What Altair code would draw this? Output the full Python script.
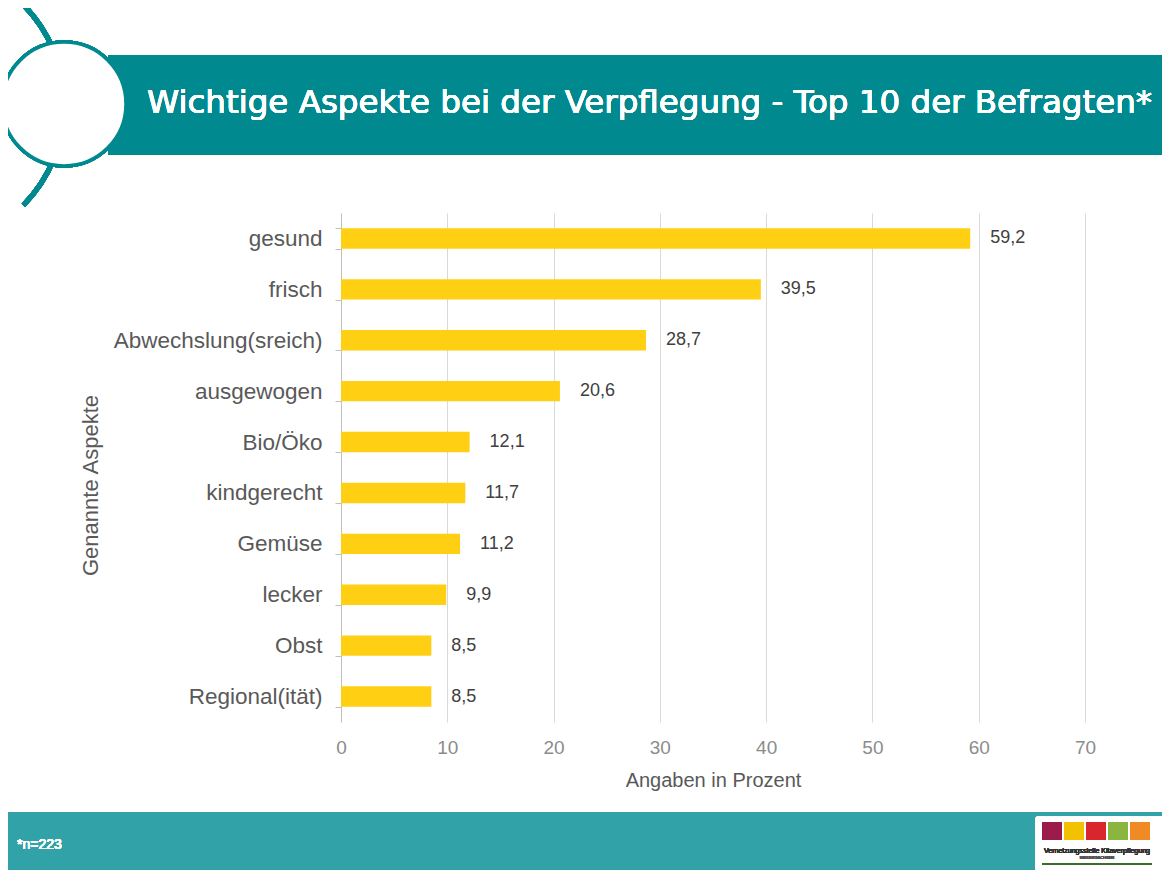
import altair as alt
import pandas as pd

aspects = ["gesund", "frisch", "Abwechslung(sreich)", "ausgewogen", "Bio/Öko",
           "kindgerecht", "Gemüse", "lecker", "Obst", "Regional(ität)"]
values = [59.2, 39.5, 28.7, 20.6, 12.1, 11.7, 11.2, 9.9, 8.5, 8.5]
labels = ["59,2", "39,5", "28,7", "20,6", "12,1", "11,7", "11,2", "9,9", "8,5", "8,5"]
x_ticks = [0, 10, 20, 30, 40, 50, 60, 70]

title_text = "Wichtige Aspekte bei der Verpflegung - Top 10 der Befragten*"
footnote = "*n=223"

df = pd.DataFrame({"aspect": aspects, "value": values, "label": labels})

FONT = "Liberation Sans"
TEAL = "#00898e"
FOOT = "#30a2a8"
BAR = "#ffcf14"

W, H = 744, 509
OX, OY = 341, 213

base = alt.Chart(df)

bars = base.mark_bar(color=BAR).encode(
    x=alt.X("value:Q", scale=alt.Scale(domain=[0, 70], nice=False),
            axis=alt.Axis(values=x_ticks, title="Angaben in Prozent", grid=True,
                          gridColor="#d9d9d9", gridWidth=1, domain=False, ticks=False,
                          labelFlush=False,
                          labelFontSize=19, labelColor="#8c8c8c", labelPadding=16,
                          labelFont=FONT, titleFont=FONT, titleFontSize=20,
                          titleFontWeight="normal", titleColor="#595959", titlePadding=13)),
    y=alt.Y("aspect:N", sort=aspects,
            scale=alt.Scale(paddingInner=0.6, paddingOuter=0.3),
            axis=alt.Axis(title="Genannte Aspekte", domain=True, domainColor="#bfbfbf",
                          ticks=True, tickBand="extent", tickColor="#bfbfbf", tickSize=6,
                          labelFontSize=22.5, labelColor="#595959", labelPadding=13,
                          labelLimit=400,
                          labelFont=FONT, titleFont=FONT, titleFontSize=22,
                          titleFontWeight="normal", titleColor="#595959",
                          titleX=90 - OX, titleY=485 - OY, titleAngle=270,
                          titleAlign="center", titleBaseline="middle")),
)

text = base.mark_text(align="left", baseline="middle", dx=20, fontSize=18,
                      font=FONT, color="#404040").encode(
    x="value:Q", y=alt.Y("aspect:N", sort=aspects), text="label:N")

# Decorations (pixel positions relative to the plot origin)
header = alt.Chart(df).mark_rect(color=TEAL).encode(
    x=alt.value(108 - OX), x2=alt.value(1175 - OX),
    y=alt.value(55 - OY), y2=alt.value(155 - OY))

big_arc = alt.Chart(df).mark_arc(color=TEAL, radius=145, radius2=140,
                                 theta=0.79, theta2=2.35).encode(
    x=alt.value(-78 - OX), y=alt.value(105 - OY))

circle = alt.Chart(df).mark_point(shape="circle", filled=False, fill="white",
                                  fillOpacity=1, stroke=TEAL, strokeWidth=3.5,
                                  opacity=1, size=124 * 124).encode(
    x=alt.value(64 - OX), y=alt.value(104 - OY))

title = alt.Chart(df).mark_text(align="left", baseline="middle", fontSize=32.5,
                                fontWeight="normal", font="DejaVu Sans",
                                color="white").encode(
    x=alt.value(147 - OX), y=alt.value(103 - OY), text=alt.value(title_text))

footer = alt.Chart(df).mark_rect(color=FOOT).encode(
    x=alt.value(-OX - 10), x2=alt.value(1175 - OX),
    y=alt.value(812 - OY), y2=alt.value(885 - OY))

foot_text = alt.Chart(df).mark_text(align="left", baseline="middle", fontSize=14,
                                    fontWeight="normal", font=FONT,
                                    color="white").encode(
    x=alt.value(17 - OX), y=alt.value(845 - OY), text=alt.value(footnote))

logo_bg = alt.Chart(df).mark_rect(color="white", cornerRadius=4).encode(
    x=alt.value(1035 - OX), x2=alt.value(1165 - OX),
    y=alt.value(816 - OY), y2=alt.value(871 - OY))

logo_colors = ["#9b1b4b", "#f2c200", "#d9262c", "#8ab53f", "#f08a24"]
logo_layers = []
for i, c in enumerate(logo_colors):
    x0 = 1042 + i * 22
    logo_layers.append(alt.Chart(df).mark_rect(color=c).encode(
        x=alt.value(x0 - OX), x2=alt.value(x0 + 20 - OX),
        y=alt.value(822 - OY), y2=alt.value(840 - OY)))

logo_text = alt.Chart(df).mark_text(align="center", baseline="middle", fontSize=7,
                                    font=FONT, color="#333333").encode(
    x=alt.value(1097 - OX), y=alt.value(851 - OY),
    text=alt.value("Vernetzungsstelle Kitaverpflegung"))
logo_text2 = alt.Chart(df).mark_text(align="center", baseline="middle", fontSize=4,
                                     font=FONT, color="#555555").encode(
    x=alt.value(1097 - OX), y=alt.value(858 - OY),
    text=alt.value("NIEDERSACHSEN"))
logo_line = alt.Chart(df).mark_rule(color="#3b6e2a", strokeWidth=1.5).encode(
    x=alt.value(1042 - OX), x2=alt.value(1152 - OX), y=alt.value(864 - OY))

TOTAL_W, TOTAL_H = 1154, 862

chart = alt.layer(
    header, big_arc, circle, title, footer, foot_text, logo_bg, *logo_layers,
    logo_text, logo_text2, logo_line, bars, text
).properties(
    width=W, height=H,
    padding={"left": OX - 8, "top": OY - 8, "right": TOTAL_W - (OX - 8) - W,
             "bottom": TOTAL_H - (OY - 8) - H},
    autosize=alt.AutoSizeParams(type="none"),
    background="white",
).configure_view(stroke=None)

chart.save("out.html", embed_options={"renderer": "svg", "actions": False})
